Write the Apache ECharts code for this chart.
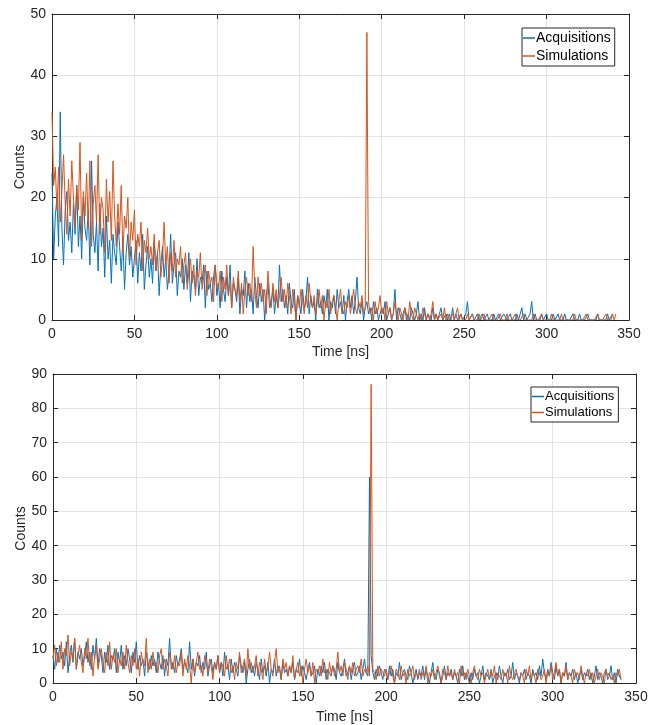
<!DOCTYPE html>
<html>
<head>
<meta charset="utf-8">
<script src="https://cdn.jsdelivr.net/npm/echarts@6/dist/echarts.min.js"></script>
<style>
  html, body { margin: 0; padding: 0; background: #fff; }
  #main { width: 664px; height: 725px; }
</style>
</head>
<body>
<div id="main"></div>
<script>
// time bins in ns (bin width 1 ns, first bin at 0)
const BIN_NS = 1
const xTicks = [0, 50, 100, 150, 200, 250, 300, 350]

// upper panel
const acqTop = [
  24, 10, 17, 20, 12, 34, 15, 9, 18, 21, 13, 16, 11, 19, 14, 22, 12, 17, 10, 20,
  15, 13, 18, 9, 26, 14, 11, 16, 8, 19, 12, 15, 7, 17, 10, 13, 6, 14, 11, 9,
  16, 12, 8, 13, 5, 11, 14, 9, 12, 7, 10, 13, 6, 11, 8, 14, 5, 9, 12, 7,
  10, 6, 13, 8, 11, 4, 9, 12, 7, 10, 5, 8, 14, 6, 9, 11, 4, 8, 7, 10,
  5, 9, 6, 11, 3, 8, 7, 5, 10, 4, 7, 6, 9, 2, 8, 5, 6, 3, 7, 9,
  4, 6, 2, 8, 5, 3, 7, 4, 9, 2, 6, 5, 3, 7, 1, 5, 4, 8, 2, 6,
  3, 5, 1, 7, 4, 2, 6, 3, 5, 0, 4, 6, 2, 3, 5, 1, 4, 2, 9, 3,
  5, 2, 4, 1, 6, 3, 2, 5, 0, 4, 3, 1, 5, 2, 3, 7, 1, 4, 2, 3,
  0, 5, 2, 3, 1, 4, 2, 5, 0, 3, 2, 4, 1, 5, 2, 3, 1, 4, 0, 3,
  5, 2, 4, 1, 3, 7, 2, 1, 3, 0, 2, 3, 1, 2, 0, 3, 1, 2, 0, 1,
  2, 1, 3, 0, 1, 2, 0, 1, 5, 0, 2, 1, 0, 1, 2, 0, 1, 0, 2, 1,
  0, 1, 3, 0, 1, 0, 2, 0, 1, 1, 0, 2, 0, 1, 0, 1, 2, 0, 0, 1,
  0, 1, 0, 2, 0, 1, 0, 0, 1, 0, 0, 1, 3, 0, 0, 1, 0, 0, 1, 0,
  0, 1, 0, 0, 1, 0, 0, 0, 1, 0, 0, 1, 0, 0, 1, 1, 0, 0, 1, 0,
  0, 0, 1, 0, 0, 2, 0, 1, 0, 0, 1, 3, 0, 1, 0, 0, 0, 1, 0, 0,
  1, 0, 0, 0, 1, 0, 0, 1, 0, 0, 0, 1, 0, 0, 0, 0, 1, 0, 0, 0,
  1, 0, 0, 0, 0, 1, 0, 0, 0, 0, 0, 1, 0, 0, 0, 0, 0, 1, 0, 0,
  1
]
const simTop = [
  34, 22, 25, 18, 25, 16, 21, 27, 19, 14, 23, 17, 26, 20, 15, 22, 18, 29, 13, 21,
  17, 24, 15, 26, 12, 19, 22, 16, 27, 14, 20, 18, 11, 23, 16, 21, 13, 26, 17, 12,
  19, 14, 22, 11, 17, 15, 20, 10, 16, 13, 18, 9, 14, 12, 16, 8, 13, 11, 15, 10,
  12, 9, 14, 8, 11, 13, 7, 10, 16, 9, 12, 6, 11, 8, 13, 7, 10, 9, 12, 6,
  9, 11, 5, 8, 10, 6, 9, 4, 8, 7, 11, 5, 7, 9, 4, 8, 6, 7, 3, 9,
  6, 5, 8, 3, 7, 5, 9, 4, 6, 2, 7, 5, 4, 8, 3, 6, 1, 5, 7, 4,
  6, 3, 12, 5, 2, 7, 4, 6, 3, 5, 1, 8, 4, 2, 6, 3, 5, 2, 4, 7,
  3, 5, 2, 6, 4, 1, 5, 3, 0, 4, 2, 5, 3, 1, 4, 2, 6, 3, 2, 4,
  1, 3, 5, 2, 4, 0, 3, 2, 5, 1, 3, 4, 2, 0, 3, 5, 2, 1, 3, 2,
  4, 1, 3, 5, 2, 1, 3, 2, 4, 1, 2, 47, 3, 1, 2, 0, 3, 1, 2, 4,
  1, 2, 0, 3, 1, 2, 0, 1, 3, 1, 0, 2, 1, 0, 2, 1, 0, 3, 1, 0,
  2, 1, 0, 1, 0, 2, 1, 0, 1, 0, 1, 3, 0, 1, 0, 0, 1, 0, 2, 0,
  1, 0, 0, 1, 0, 0, 2, 0, 1, 0, 0, 0, 1, 0, 0, 1, 0, 0, 0, 1,
  0, 0, 1, 0, 0, 0, 0, 1, 0, 0, 0, 0, 1, 0, 0, 0, 1, 0, 0, 0,
  0, 1, 0, 0, 0, 0, 1, 0, 0, 0, 0, 0, 1, 0, 0, 0, 0, 1, 0, 0,
  0, 0, 0, 1, 0, 0, 0, 0, 0, 1, 0, 0, 0, 0, 0, 0, 0, 1, 0, 0,
  0, 0, 0, 0, 1, 0, 0, 0, 0, 0, 0, 1, 0, 0, 0, 0, 1, 0, 0, 0,
  1, 0, 1
]

// lower panel
const acqBot = [
  8, 4, 10, 6, 11, 7, 9, 5, 12, 3, 8, 11, 6, 13, 4, 9, 7, 10, 5, 8,
  12, 6, 9, 4, 11, 7, 13, 5, 10, 8, 3, 9, 6, 11, 4, 8, 7, 10, 3, 9,
  6, 11, 4, 8, 5, 10, 7, 3, 9, 6, 12, 4, 8, 5, 7, 2, 9, 6, 4, 8,
  5, 7, 3, 9, 6, 4, 8, 2, 7, 5, 13, 4, 6, 3, 8, 5, 7, 10, 4, 6,
  5, 3, 12, 4, 7, 2, 6, 5, 8, 3, 6, 4, 9, 2, 5, 7, 3, 6, 4, 8,
  3, 6, 2, 9, 4, 5, 1, 7, 3, 6, 4, 2, 8, 5, 3, 6, 0, 4, 7, 3,
  5, 2, 6, 4, 1, 7, 3, 5, 2, 6, 0, 4, 3, 7, 2, 5, 4, 1, 6, 3,
  4, 2, 5, 3, 6, 1, 4, 3, 7, 2, 5, 3, 1, 4, 6, 2, 3, 5, 0, 4,
  2, 5, 3, 6, 1, 4, 3, 2, 5, 4, 1, 6, 3, 2, 4, 7, 2, 3, 5, 1,
  4, 6, 2, 3, 5, 1, 4, 7, 3, 2, 60, 8, 3, 1, 4, 2, 5, 3, 1, 4,
  3, 1, 5, 2, 4, 0, 3, 2, 6, 1, 3, 4, 2, 1, 5, 3, 0, 2, 4, 1,
  3, 2, 5, 1, 4, 2, 0, 3, 6, 2, 1, 4, 3, 0, 2, 5, 1, 3, 2, 4,
  1, 3, 2, 0, 4, 2, 5, 1, 3, 2, 0, 3, 1, 4, 2, 3, 0, 2, 5, 1,
  3, 2, 1, 4, 0, 2, 3, 1, 5, 2, 0, 3, 2, 4, 1, 2, 6, 1, 3, 2,
  0, 3, 2, 4, 1, 3, 2, 0, 4, 2, 3, 1, 5, 2, 7, 3, 1, 4, 2, 6,
  3, 1, 5, 2, 4, 0, 3, 2, 6, 1, 3, 2, 4, 1, 3, 0, 2, 4, 1, 3,
  2, 4, 1, 3, 0, 2, 5, 1, 3, 2, 0, 3, 4, 1, 2, 5, 1, 3, 0, 4,
  2, 1
]
const simBot = [
  7, 11, 5, 9, 6, 12, 4, 10, 8, 14, 5, 9, 7, 13, 4, 8, 11, 6, 3, 10,
  7, 13, 5, 9, 2, 8, 11, 4, 7, 10, 6, 3, 9, 5, 12, 4, 8, 6, 10, 3,
  7, 5, 9, 4, 11, 6, 3, 8, 5, 10, 4, 7, 2, 9, 6, 5, 13, 3, 7, 4,
  9, 5, 6, 3, 8, 10, 4, 7, 5, 2, 9, 6, 4, 8, 3, 6, 5, 9, 2, 7,
  4, 8, 5, 0, 7, 3, 6, 9, 4, 5, 2, 8, 6, 3, 7, 5, 1, 6, 4, 8,
  3, 6, 5, 2, 8, 4, 7, 3, 5, 1, 6, 4, 9, 3, 5, 7, 2, 10, 4, 6,
  3, 5, 8, 2, 6, 4, 1, 7, 3, 5, 9, 4, 2, 6, 10, 3, 5, 1, 7, 4,
  6, 2, 5, 3, 8, 1, 4, 6, 2, 5, 0, 4, 7, 3, 5, 2, 6, 0, 4, 3,
  5, 2, 7, 3, 4, 1, 6, 3, 5, 2, 4, 9, 3, 5, 2, 6, 4, 1, 5, 3,
  6, 2, 4, 5, 3, 7, 2, 4, 3, 5, 2, 87, 4, 3, 1, 5, 2, 4, 3, 2,
  4, 1, 3, 5, 2, 0, 4, 3, 1, 5, 2, 3, 0, 4, 2, 3, 5, 1, 3, 2,
  4, 1, 3, 2, 5, 0, 3, 2, 4, 1, 3, 5, 2, 0, 4, 3, 1, 5, 2, 3,
  1, 4, 2, 3, 0, 5, 2, 3, 1, 4, 2, 0, 3, 5, 2, 1, 4, 2, 3, 0,
  2, 4, 1, 3, 2, 5, 0, 3, 2, 1, 4, 2, 3, 0, 5, 2, 1, 3, 4, 2,
  1, 3, 2, 0, 4, 2, 5, 1, 3, 2, 0, 4, 3, 1, 2, 4, 0, 3, 2, 5,
  1, 3, 6, 2, 4, 0, 3, 2, 5, 1, 3, 2, 0, 4, 2, 3, 1, 5, 2, 0,
  3, 2, 4, 1, 3, 0, 2, 4, 1, 3, 2, 0, 4, 2, 3, 1, 2, 0, 3, 2,
  4, 1
]

const BLUE = '#0072BD'
const ORANGE = '#D95319'
const INK = '#262626'
const FONT = 'Liberation Sans'

const toPairs = arr => arr.map((v, i) => [i * BIN_NS, v])

const panels = [
  { grid: { left: 52, right: 35, top: 14, height: 306 }, yMax: 50, acq: acqTop, sim: simTop,
    legend: { left: 522, top: 28, font: 14, gap: 4 }, xGap: 25 },
  { grid: { left: 53, right: 28, top: 374, height: 310 }, yMax: 90, acq: acqBot, sim: simBot,
    legend: { left: 531, top: 387, font: 13, gap: 3 }, xGap: 27 }
]

const tickLabel = { color: INK, fontFamily: FONT, fontSize: 14 }
const nameStyle = { color: INK, fontFamily: FONT, fontSize: 14 }

const grid = [], xAxis = [], yAxis = [], series = [], legend = []
panels.forEach((p, k) => {
  grid.push(Object.assign({ containLabel: false }, p.grid))
  // bottom x axis with labels
  xAxis.push({
    gridIndex: k, type: 'value', min: 0, max: 350, interval: 50, position: 'bottom',
    name: 'Time [ns]', nameLocation: 'middle', nameGap: p.xGap, nameTextStyle: nameStyle,
    nameMoveOverlap: false,
    axisLine: { onZero: false, lineStyle: { color: INK, width: 1 } },
    axisTick: { inside: true, length: 5, lineStyle: { color: INK } },
    axisLabel: Object.assign({ margin: 7 }, tickLabel),
    splitLine: { show: true, lineStyle: { color: '#e3e3e3', width: 1 } }
  })
  // top x axis, box only
  xAxis.push({
    gridIndex: k, type: 'value', min: 0, max: 350, interval: 50, position: 'top',
    axisLine: { onZero: false, lineStyle: { color: INK, width: 1 } },
    axisTick: { inside: true, length: 5, lineStyle: { color: INK } },
    axisLabel: { show: false }, splitLine: { show: false }
  })
  yAxis.push({
    gridIndex: k, type: 'value', min: 0, max: p.yMax, interval: 10, position: 'left',
    name: 'Counts', nameLocation: 'middle', nameGap: 25, nameTextStyle: nameStyle,
    nameMoveOverlap: false,
    axisLine: { show: true, onZero: false, lineStyle: { color: INK, width: 1 } },
    axisTick: { show: true, inside: true, length: 5, lineStyle: { color: INK } },
    axisLabel: Object.assign({ margin: 6 }, tickLabel),
    splitLine: { show: true, lineStyle: { color: '#e3e3e3', width: 1 } }
  })
  yAxis.push({
    gridIndex: k, type: 'value', min: 0, max: p.yMax, interval: 10, position: 'right',
    axisLine: { show: true, onZero: false, lineStyle: { color: INK, width: 1 } },
    axisTick: { show: true, inside: true, length: 5, lineStyle: { color: INK } },
    axisLabel: { show: false }, splitLine: { show: false }
  })
  series.push({
    name: 'Acquisitions', type: 'line', xAxisIndex: 2 * k, yAxisIndex: 2 * k,
    data: toPairs(p.acq), showSymbol: false, symbol: 'none',
    lineStyle: { color: BLUE, width: 1 }, itemStyle: { color: BLUE }, z: 2
  })
  series.push({
    name: 'Simulations', type: 'line', xAxisIndex: 2 * k, yAxisIndex: 2 * k,
    data: toPairs(p.sim), showSymbol: false, symbol: 'none',
    lineStyle: { color: ORANGE, width: 1 }, itemStyle: { color: ORANGE }, z: 3
  })
  legend.push({
    data: ['Acquisitions', 'Simulations'], orient: 'vertical',
    left: p.legend.left, top: p.legend.top,
    icon: 'rect', itemWidth: 12, itemHeight: 1.5, itemGap: p.legend.gap,
    padding: [3, 4, 3, 1], borderColor: INK, borderWidth: 1, backgroundColor: '#fff',
    selectedMode: false,
    textStyle: { color: '#000', fontFamily: FONT, fontSize: p.legend.font, padding: [0, 0, 0, -4] }
  })
})

const chart = echarts.init(document.getElementById('main'), null, { renderer: 'canvas' })
chart.setOption({
  animation: false,
  backgroundColor: '#fff',
  grid, xAxis, yAxis, series, legend
})
</script>
</body>
</html>
